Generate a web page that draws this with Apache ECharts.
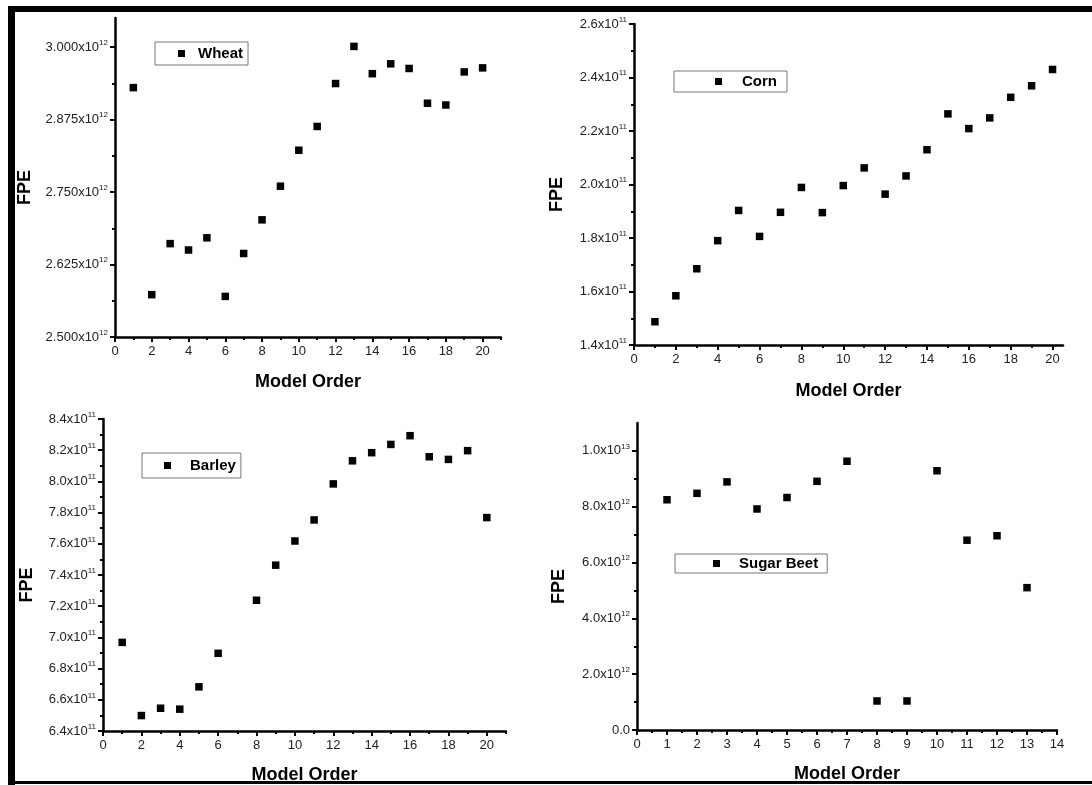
<!DOCTYPE html>
<html>
<head>
<meta charset="utf-8">
<script src="https://cdn.jsdelivr.net/npm/echarts@6/dist/echarts.min.js"></script>
<style>
  html, body { margin: 0; padding: 0; background: #fff; }
  #chart { width: 1092px; height: 785px; }
</style>
</head>
<body>
<div id="chart"></div>
<script>
// ---- data: final prediction error (FPE) by autoregressive model order ----
const modelOrder20 = [1, 2, 3, 4, 5, 6, 7, 8, 9, 10, 11, 12, 13, 14, 15, 16, 17, 18, 19, 20];
const wheatFPE = [2.930e12, 2.573e12, 2.661e12, 2.650e12, 2.671e12, 2.570e12, 2.644e12, 2.702e12, 2.760e12, 2.822e12,
                  2.863e12, 2.937e12, 3.001e12, 2.954e12, 2.971e12, 2.963e12, 2.903e12, 2.900e12, 2.957e12, 2.964e12];
const cornFPE = [1.487e11, 1.584e11, 1.685e11, 1.790e11, 1.903e11, 1.806e11, 1.896e11, 1.989e11, 1.895e11, 1.996e11,
                 2.062e11, 1.964e11, 2.032e11, 2.130e11, 2.264e11, 2.209e11, 2.249e11, 2.326e11, 2.369e11, 2.430e11];
const barleyOrder = [1, 2, 3, 4, 5, 6, 8, 9, 10, 11, 12, 13, 14, 15, 16, 17, 18, 19, 20];
const barleyFPE = [6.968e11, 6.499e11, 6.546e11, 6.540e11, 6.683e11, 6.898e11, 7.238e11, 7.463e11, 7.618e11, 7.753e11,
                   7.984e11, 8.132e11, 8.184e11, 8.237e11, 8.293e11, 8.158e11, 8.141e11, 8.197e11, 7.768e11];
const sugarBeetOrder = [1, 2, 3, 4, 5, 6, 7, 8, 9, 10, 11, 12, 13];
const sugarBeetFPE = [8.25e12, 8.48e12, 8.89e12, 7.92e12, 8.33e12, 8.91e12, 9.63e12, 1.04e12, 1.04e12, 9.29e12,
                      6.80e12, 6.96e12, 5.10e12];

// ---- tick positions ----
const xTicks20 = [0, 2, 4, 6, 8, 10, 12, 14, 16, 18, 20];
const xMinor21 = [1, 3, 5, 7, 9, 11, 13, 15, 17, 19, 21];
const xMinor19 = [1, 3, 5, 7, 9, 11, 13, 15, 17, 19];
const xTicks14 = [0, 1, 2, 3, 4, 5, 6, 7, 8, 9, 10, 11, 12, 13, 14];
const xMinor14 = [0.5, 1.5, 2.5, 3.5, 4.5, 5.5, 6.5, 7.5, 8.5, 9.5, 10.5, 11.5, 12.5, 13.5];
const wheatYTicks = [2.5e12, 2.625e12, 2.75e12, 2.875e12, 3.0e12];
const wheatYMinor = [2.5625e12, 2.6875e12, 2.8125e12, 2.9375e12];
const cornYTicks = [1.4e11, 1.6e11, 1.8e11, 2.0e11, 2.2e11, 2.4e11, 2.6e11];
const cornYMinor = [1.5e11, 1.7e11, 1.9e11, 2.1e11, 2.3e11, 2.5e11];
const barleyYTicks = [6.4e11, 6.6e11, 6.8e11, 7.0e11, 7.2e11, 7.4e11, 7.6e11, 7.8e11, 8.0e11, 8.2e11, 8.4e11];
const barleyYMinor = [6.5e11, 6.7e11, 6.9e11, 7.1e11, 7.3e11, 7.5e11, 7.7e11, 7.9e11, 8.1e11, 8.3e11];
const sugarYTicks = [0, 2e12, 4e12, 6e12, 8e12, 1e13];
const sugarYMinor = [1e12, 3e12, 5e12, 7e12, 9e12];

const FONT = '"Liberation Sans", Arial, sans-serif';

// "2.500x10^12" style labels with a raised exponent
function sciLabel(digits) {
  return function (v) {
    if (v === 0) return '{m|' + (0).toFixed(digits) + '}';
    const e = Math.floor(Math.log10(Math.abs(v)) + 1e-9);
    const m = v / Math.pow(10, e);
    return '{m|' + m.toFixed(digits) + 'x10}{e|' + e + '}';
  };
}
const richSci = {
  m: { fontSize: 13, color: '#222', fontFamily: FONT },
  e: { fontSize: 8, color: '#222', fontFamily: FONT, padding: [0, 0, 9, 0] }
};

const panels = [
  { name: 'Wheat', xs: modelOrder20, ys: wheatFPE,
    grid: { left: 115, top: 18, width: 386, height: 319 },
    xMin: 0, xMax: 21, xMajor: xTicks20, xMinor: xMinor21,
    yMin: 2.5e12, yMax: 3.05e12, yMajor: wheatYTicks, yMinor: wheatYMinor, digits: 3,
    yNameGap: 81, xNameGap: 36,
    legend: { left: 155, top: 42, padding: [4, 5, 4, 23], textPad: 8 } },
  { name: 'Corn', xs: modelOrder20, ys: cornFPE,
    grid: { left: 634, top: 24, width: 429, height: 321 },
    xMin: 0, xMax: 20.5, xMajor: xTicks20, xMinor: xMinor19,
    yMin: 1.4e11, yMax: 2.6e11, yMajor: cornYTicks, yMinor: cornYMinor, digits: 1,
    yNameGap: 68, xNameGap: 37,
    legend: { left: 674, top: 71, padding: [3, 10, 3, 41], textPad: 15 } },
  { name: 'Barley', xs: barleyOrder, ys: barleyFPE,
    grid: { left: 103, top: 419, width: 403, height: 313 },
    xMin: 0, xMax: 21, xMajor: xTicks20, xMinor: xMinor21,
    yMin: 6.4e11, yMax: 8.4e11, yMajor: barleyYTicks, yMinor: barleyYMinor, digits: 1,
    yNameGap: 67, xNameGap: 35,
    legend: { left: 142, top: 453, padding: [5, 5, 5, 22], textPad: 14 } },
  { name: 'Sugar Beet', xs: sugarBeetOrder, ys: sugarBeetFPE,
    grid: { left: 637, top: 423, width: 420, height: 307 },
    xMin: 0, xMax: 14, xMajor: xTicks14, xMinor: xMinor14,
    yMin: 0, yMax: 1.1e13, yMajor: sugarYTicks, yMinor: sugarYMinor, digits: 1,
    yNameGap: 69, xNameGap: 35,
    legend: { left: 675, top: 554, padding: [2, 9, 2, 38], textPad: 14 } }
];

const option = {
  animation: false,
  backgroundColor: '#fff',
  grid: [], xAxis: [], yAxis: [], series: [], legend: [],
  graphic: [
    // frame around the figure
    { type: 'rect', shape: { x: 8, y: 6, width: 1084, height: 6 }, style: { fill: '#000' } },
    { type: 'rect', shape: { x: 8, y: 6, width: 7, height: 779 }, style: { fill: '#000' } },
    { type: 'rect', shape: { x: 8, y: 781, width: 1084, height: 3 }, style: { fill: '#000' } }
  ]
};

const axisLine = { show: true, onZero: false, lineStyle: { color: '#000', width: 2.5 } };

panels.forEach(function (p, i) {
  option.grid.push(Object.assign({ containLabel: false }, p.grid));
  const isNum = function (list) {
    return function (v) { return list.some(function (t) { return Math.abs(t - v) < 1e-6 * Math.max(1, Math.abs(t)); }); };
  };
  const isXMajor = isNum(p.xMajor), isYMajor = isNum(p.yMajor);
  // main x axis: line, major ticks, labels, title
  option.xAxis.push({
    type: 'value', gridIndex: i, position: 'bottom', min: p.xMin, max: p.xMax,
    axisLine: axisLine,
    axisTick: { show: true, customValues: p.xMajor, length: 5, lineStyle: { color: '#000', width: 2 } },
    axisLabel: { customValues: p.xMajor, margin: 8, fontSize: 13, color: '#222', fontFamily: FONT,
                 formatter: function (v) { return isXMajor(v) ? String(v) : ''; } },
    splitLine: { show: false },
    name: 'Model Order', nameLocation: 'middle', nameGap: p.xNameGap,
    nameTextStyle: { fontSize: 18, fontWeight: 'bold', color: '#000', fontFamily: FONT }
  });
  // companion x axis carrying only the minor ticks
  option.xAxis.push({
    type: 'value', gridIndex: i, position: 'bottom', min: p.xMin, max: p.xMax,
    axisLine: { show: false },
    axisTick: { show: true, customValues: p.xMinor, length: 3, lineStyle: { color: '#000', width: 2 } },
    axisLabel: { show: false }, splitLine: { show: false }
  });
  option.yAxis.push({
    type: 'value', gridIndex: i, position: 'left', min: p.yMin, max: p.yMax,
    axisLine: axisLine,
    axisTick: { show: true, customValues: p.yMajor, length: 5, lineStyle: { color: '#000', width: 2 } },
    axisLabel: { customValues: p.yMajor, margin: 7, rich: richSci,
                 formatter: function (v) { return isYMajor(v) ? sciLabel(p.digits)(v) : ''; } },
    splitLine: { show: false },
    name: 'FPE', nameLocation: 'middle', nameGap: p.yNameGap, nameRotate: 90,
    nameTextStyle: { fontSize: 18, fontWeight: 'bold', color: '#000', fontFamily: FONT, padding: [0, 20, 0, 0] }
  });
  option.yAxis.push({
    type: 'value', gridIndex: i, position: 'left', min: p.yMin, max: p.yMax,
    axisLine: { show: false },
    axisTick: { show: true, customValues: p.yMinor, length: 3, lineStyle: { color: '#000', width: 2 } },
    axisLabel: { show: false }, splitLine: { show: false }
  });
  option.series.push({
    type: 'scatter', name: p.name, xAxisIndex: 2 * i, yAxisIndex: 2 * i,
    symbol: 'rect', symbolSize: 7.5, itemStyle: { color: '#000', opacity: 1 },
    data: p.xs.map(function (x, k) { return [x, p.ys[k]]; })
  });
  option.legend.push({
    data: [{ name: p.name, icon: 'rect' }],
    left: p.legend.left, top: p.legend.top, orient: 'horizontal',
    padding: p.legend.padding, itemWidth: 7, itemHeight: 7,
    borderColor: '#777', borderWidth: 1, backgroundColor: '#fff',
    selectedMode: false,
    textStyle: { fontSize: 15, fontWeight: 'bold', color: '#000', fontFamily: FONT,
                 padding: [0, 0, 0, p.legend.textPad] }
  });
});

const chart = echarts.init(document.getElementById('chart'), null, { renderer: 'canvas' });
chart.setOption(option);
</script>
</body>
</html>
